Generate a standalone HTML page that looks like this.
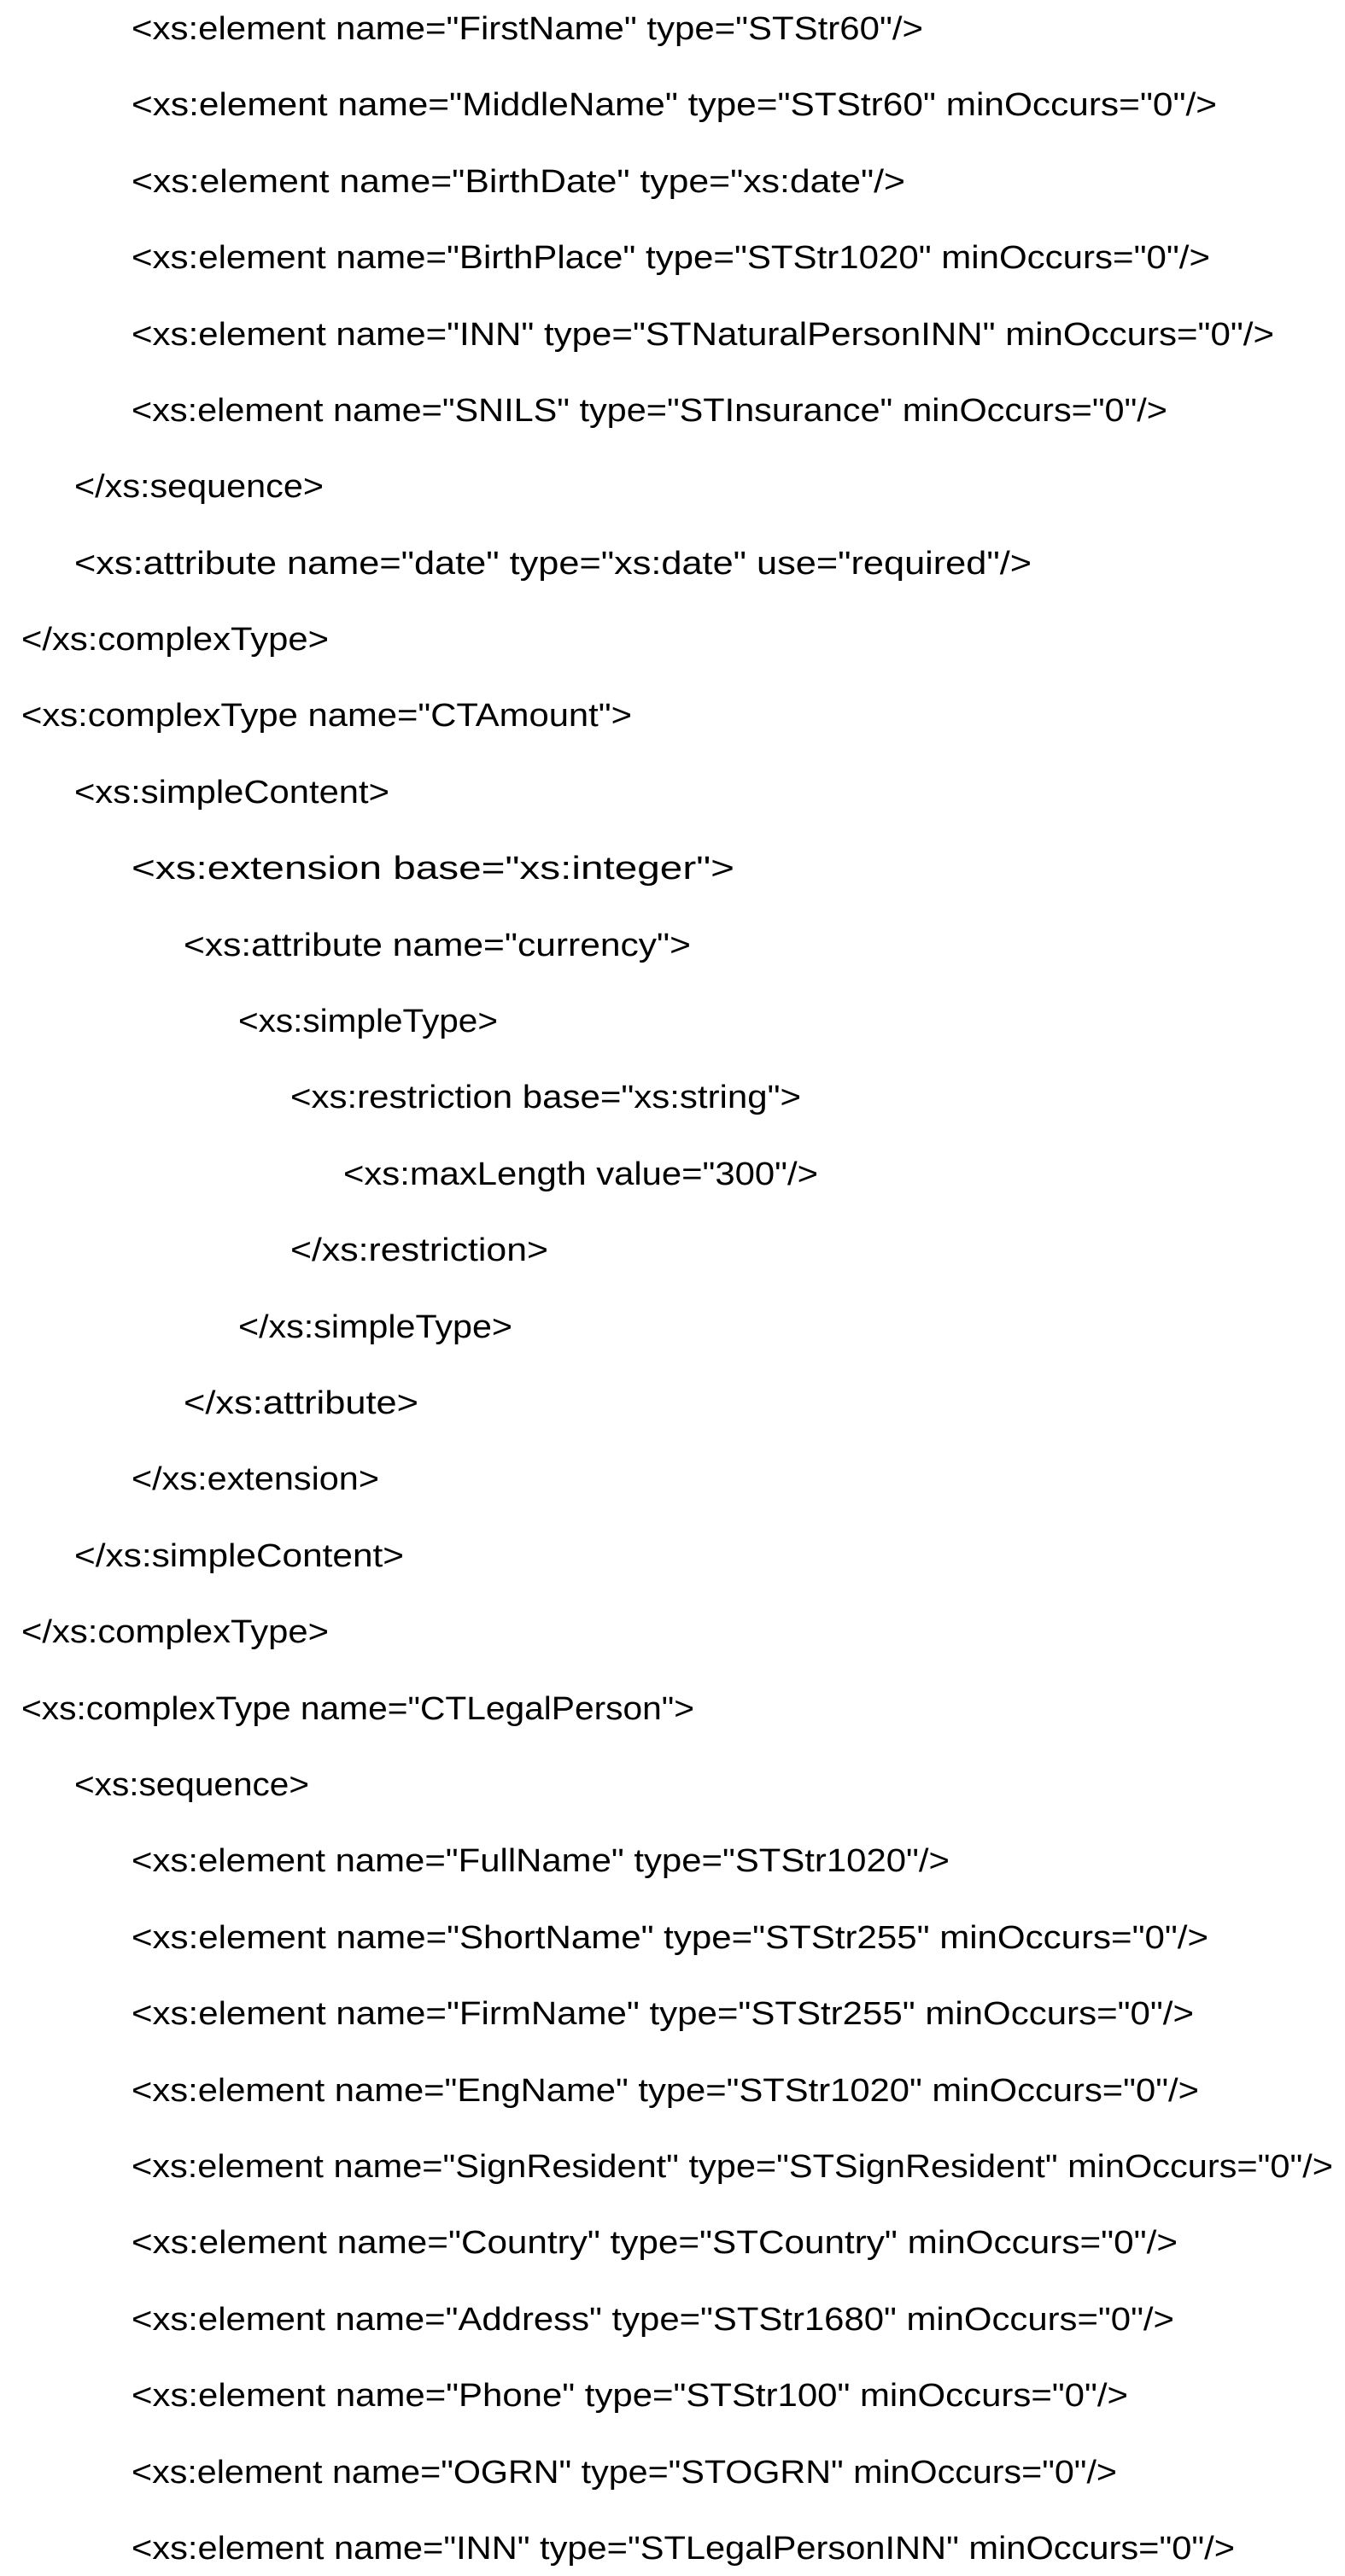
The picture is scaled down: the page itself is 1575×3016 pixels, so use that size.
<!DOCTYPE html>
<html><head><meta charset="utf-8"><style>
html,body{margin:0;padding:0;background:#fff;width:1575px;height:3016px;overflow:hidden}
svg{display:block}
text{font-family:"Liberation Sans",sans-serif;font-size:38px;fill:#000}
</style></head><body>
<svg width="1575" height="3016" viewBox="0 0 1575 3016" xmlns="http://www.w3.org/2000/svg">
<text x="154" y="46" textLength="927" lengthAdjust="spacingAndGlyphs">&lt;xs:element name="FirstName" type="STStr60"/&gt;</text>
<text x="154" y="135" textLength="1271" lengthAdjust="spacingAndGlyphs">&lt;xs:element name="MiddleName" type="STStr60" minOccurs="0"/&gt;</text>
<text x="154" y="225" textLength="906" lengthAdjust="spacingAndGlyphs">&lt;xs:element name="BirthDate" type="xs:date"/&gt;</text>
<text x="154" y="314" textLength="1263" lengthAdjust="spacingAndGlyphs">&lt;xs:element name="BirthPlace" type="STStr1020" minOccurs="0"/&gt;</text>
<text x="154" y="404" textLength="1338" lengthAdjust="spacingAndGlyphs">&lt;xs:element name="INN" type="STNaturalPersonINN" minOccurs="0"/&gt;</text>
<text x="154" y="493" textLength="1213" lengthAdjust="spacingAndGlyphs">&lt;xs:element name="SNILS" type="STInsurance" minOccurs="0"/&gt;</text>
<text x="87" y="582" textLength="292" lengthAdjust="spacingAndGlyphs">&lt;/xs:sequence&gt;</text>
<text x="87" y="672" textLength="1121" lengthAdjust="spacingAndGlyphs">&lt;xs:attribute name="date" type="xs:date" use="required"/&gt;</text>
<text x="25" y="761" textLength="360" lengthAdjust="spacingAndGlyphs">&lt;/xs:complexType&gt;</text>
<text x="25" y="850" textLength="715" lengthAdjust="spacingAndGlyphs">&lt;xs:complexType name="CTAmount"&gt;</text>
<text x="87" y="940" textLength="369" lengthAdjust="spacingAndGlyphs">&lt;xs:simpleContent&gt;</text>
<text x="154" y="1029" textLength="706" lengthAdjust="spacingAndGlyphs">&lt;xs:extension base="xs:integer"&gt;</text>
<text x="215" y="1119" textLength="594" lengthAdjust="spacingAndGlyphs">&lt;xs:attribute name="currency"&gt;</text>
<text x="279" y="1208" textLength="304" lengthAdjust="spacingAndGlyphs">&lt;xs:simpleType&gt;</text>
<text x="340" y="1297" textLength="598" lengthAdjust="spacingAndGlyphs">&lt;xs:restriction base="xs:string"&gt;</text>
<text x="402" y="1387" textLength="556" lengthAdjust="spacingAndGlyphs">&lt;xs:maxLength value="300"/&gt;</text>
<text x="340" y="1476" textLength="302" lengthAdjust="spacingAndGlyphs">&lt;/xs:restriction&gt;</text>
<text x="279" y="1566" textLength="321" lengthAdjust="spacingAndGlyphs">&lt;/xs:simpleType&gt;</text>
<text x="215" y="1655" textLength="275" lengthAdjust="spacingAndGlyphs">&lt;/xs:attribute&gt;</text>
<text x="154" y="1744" textLength="290" lengthAdjust="spacingAndGlyphs">&lt;/xs:extension&gt;</text>
<text x="87" y="1834" textLength="386" lengthAdjust="spacingAndGlyphs">&lt;/xs:simpleContent&gt;</text>
<text x="25" y="1923" textLength="360" lengthAdjust="spacingAndGlyphs">&lt;/xs:complexType&gt;</text>
<text x="25" y="2013" textLength="788" lengthAdjust="spacingAndGlyphs">&lt;xs:complexType name="CTLegalPerson"&gt;</text>
<text x="87" y="2102" textLength="275" lengthAdjust="spacingAndGlyphs">&lt;xs:sequence&gt;</text>
<text x="154" y="2191" textLength="958" lengthAdjust="spacingAndGlyphs">&lt;xs:element name="FullName" type="STStr1020"/&gt;</text>
<text x="154" y="2281" textLength="1261" lengthAdjust="spacingAndGlyphs">&lt;xs:element name="ShortName" type="STStr255" minOccurs="0"/&gt;</text>
<text x="154" y="2370" textLength="1244" lengthAdjust="spacingAndGlyphs">&lt;xs:element name="FirmName" type="STStr255" minOccurs="0"/&gt;</text>
<text x="154" y="2460" textLength="1250" lengthAdjust="spacingAndGlyphs">&lt;xs:element name="EngName" type="STStr1020" minOccurs="0"/&gt;</text>
<text x="154" y="2549" textLength="1407" lengthAdjust="spacingAndGlyphs">&lt;xs:element name="SignResident" type="STSignResident" minOccurs="0"/&gt;</text>
<text x="154" y="2638" textLength="1225" lengthAdjust="spacingAndGlyphs">&lt;xs:element name="Country" type="STCountry" minOccurs="0"/&gt;</text>
<text x="154" y="2728" textLength="1221" lengthAdjust="spacingAndGlyphs">&lt;xs:element name="Address" type="STStr1680" minOccurs="0"/&gt;</text>
<text x="154" y="2817" textLength="1167" lengthAdjust="spacingAndGlyphs">&lt;xs:element name="Phone" type="STStr100" minOccurs="0"/&gt;</text>
<text x="154" y="2907" textLength="1154" lengthAdjust="spacingAndGlyphs">&lt;xs:element name="OGRN" type="STOGRN" minOccurs="0"/&gt;</text>
<text x="154" y="2996" textLength="1292" lengthAdjust="spacingAndGlyphs">&lt;xs:element name="INN" type="STLegalPersonINN" minOccurs="0"/&gt;</text>
</svg>
</body></html>
